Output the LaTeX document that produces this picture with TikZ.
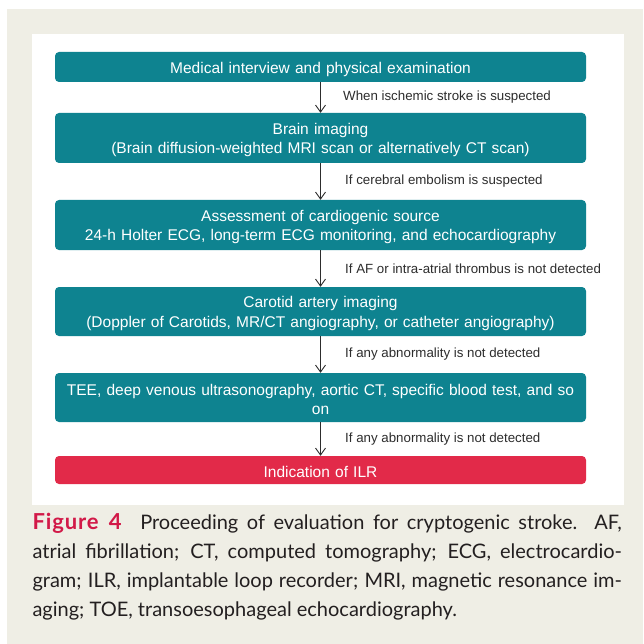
\documentclass[tikz,border=0pt]{standalone}
\usepackage{fontspec}
\setmainfont{Liberation Sans}
\newfontfamily\capfont{Lato}
\usetikzlibrary{arrows.meta}
\definecolor{stepTeal}{RGB}{14,131,144}
\definecolor{stepRed}{RGB}{226,42,73}
\definecolor{capRed}{RGB}{210,25,72}
\definecolor{pageBeige}{RGB}{239,238,229}
\definecolor{txtGray}{RGB}{45,45,45}
\definecolor{capInk}{RGB}{35,31,32}

\begin{document}
\begin{tikzpicture}[x=1pt,y=-1pt,
   sb/.style={rectangle,rounded corners=4pt,fill=stepTeal,text=white,
      minimum width=531pt,text width=531pt,align=center,inner sep=0pt,
      font=\fontsize{15.5}{19.5}\selectfont,
      execute at begin node={\rule{0pt}{15.5pt}}},
   lb/.style={anchor=west,inner sep=0pt,text=txtGray,
      font=\fontsize{13.3}{16}\selectfont},
   flow/.style={draw=txtGray,line width=0.9pt,
      -{Straight Barb[length=7pt,width=10pt,line width=0.9pt]}}]
%% ---- page and panel ----
\fill[white] (0,0) rectangle (643,644);
\useasboundingbox (0,0) rectangle (643,644);
\fill[pageBeige] (7,9) rectangle (643,644);
\fill[white] (32,34) rectangle (624,505);
%% ---- steps ----
\node[sb,minimum height=30pt] (interview) at (320.5,67) {Medical interview and physical examination};
\node[sb,minimum height=50pt] (brain) at (320.5,138) {Brain imaging\\(Brain diffusion-weighted MRI scan or alternatively CT scan)};
\node[sb,minimum height=50pt] (cardio) at (320.5,225) {Assessment of cardiogenic source\\24-h Holter ECG, long-term ECG monitoring, and echocardiography};
\node[sb,minimum height=49pt] (carotid) at (320.5,311.5) {Carotid artery imaging\\(Doppler of Carotids, MR/CT angiography, or catheter angiography)};
\node[sb,minimum height=49pt] (tee) at (320.5,397.5) {TEE, deep venous ultrasonography, aortic CT, specific blood test, and so\\on};
\node[sb,minimum height=28pt,fill=stepRed] (ilr) at (320.5,470) {Indication of ILR};
%% ---- arrows and conditions ----
\draw[flow] (interview) -- (brain);
\draw[flow] (brain) -- (cardio);
\draw[flow] (cardio) -- (carotid);
\draw[flow] (carotid) -- (tee);
\draw[flow] (tee) -- (ilr);
\node[lb] (ifStroke) at (343,97.5) {When ischemic stroke is suspected};
\node[lb] (ifEmbol) at (345,181.5) {If cerebral embolism is suspected};
\node[lb] (ifAF) at (345,268.5) {If AF or intra-atrial thrombus is not detected};
\node[lb] (ifAbn1) at (345,354.5) {If any abnormality is not detected};
\node[lb] (ifAbn2) at (345,439) {If any abnormality is not detected};
%% ---- caption ----
\node[anchor=base west,inner sep=0pt,text width=589.4pt,align=justify,text=capInk,
   font=\capfont\fontsize{20}{29.3}\selectfont] (caption) at (32.3,529)
   {{\color{capRed}\fontsize{22}{29.3}\selectfont\bfseries\addfontfeature{LetterSpace=4}Figure 4}\hspace{0.5em} Proceeding of evaluation for cryptogenic stroke. AF,\linebreak
    atrial fibrillation; CT, computed tomography; ECG, electrocardio-\linebreak
    gram; ILR, implantable loop recorder; MRI, magnetic resonance im-\linebreak
    aging; TOE, transoesophageal echocardiography.};
\end{tikzpicture}
\end{document}
